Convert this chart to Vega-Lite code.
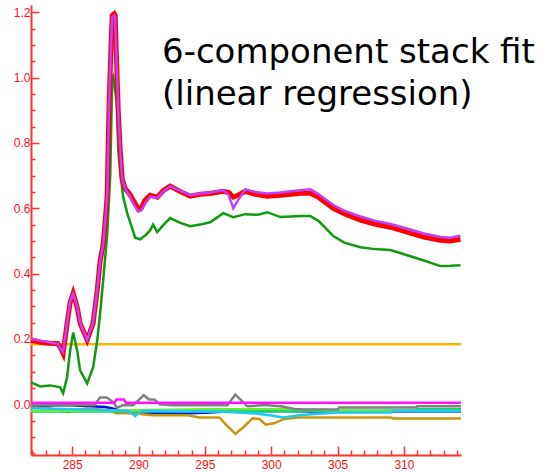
{
  "$schema": "https://vega.github.io/schema/vega-lite/v6.json",
  "width": 430,
  "height": 450,
  "autosize": {"type": "none"},
  "padding": {"left": 31, "top": 5, "right": 87, "bottom": 18},
  "background": "white",
  "config": {"view": {"stroke": null}},
  "title": {
    "text": ["6-component stack fit", "(linear regression)"],
    "orient": "top",
    "anchor": "start",
    "frame": "group",
    "align": "left",
    "baseline": "alphabetic",
    "font": "DejaVu Sans",
    "fontSize": 34,
    "fontWeight": "normal",
    "color": "#000000",
    "lineHeight": 42,
    "offset": 0,
    "dx": 131,
    "dy": 135
  },
  "datasets": {
    "data": [
      {"e": 281.9, "v": 0.197}, {"e": 282.6, "v": 0.19}, {"e": 283.3, "v": 0.187}, {"e": 283.9, "v": 0.186},
      {"e": 284.1, "v": 0.175}, {"e": 284.32, "v": 0.156}, {"e": 284.62, "v": 0.248}, {"e": 284.85, "v": 0.312},
      {"e": 285.08, "v": 0.34}, {"e": 285.38, "v": 0.297}, {"e": 285.6, "v": 0.248}, {"e": 286.13, "v": 0.197},
      {"e": 286.58, "v": 0.248}, {"e": 286.89, "v": 0.35}, {"e": 287.11, "v": 0.44}, {"e": 287.34, "v": 0.49},
      {"e": 287.49, "v": 0.56}, {"e": 287.64, "v": 0.64}, {"e": 287.71, "v": 0.78}, {"e": 287.79, "v": 0.93},
      {"e": 287.87, "v": 1.02}, {"e": 287.94, "v": 1.11}, {"e": 288.02, "v": 1.19}, {"e": 288.17, "v": 1.195},
      {"e": 288.24, "v": 1.19}, {"e": 288.32, "v": 1.085}, {"e": 288.39, "v": 1.0}, {"e": 288.47, "v": 0.9},
      {"e": 288.62, "v": 0.78}, {"e": 288.77, "v": 0.69}, {"e": 289.0, "v": 0.66}, {"e": 289.3, "v": 0.645},
      {"e": 289.6, "v": 0.625}, {"e": 289.98, "v": 0.597}, {"e": 290.2, "v": 0.6}, {"e": 290.5, "v": 0.625},
      {"e": 290.88, "v": 0.64}, {"e": 291.41, "v": 0.634}, {"e": 291.9, "v": 0.655}, {"e": 292.39, "v": 0.668},
      {"e": 293.1, "v": 0.652}, {"e": 293.9, "v": 0.637}, {"e": 294.65, "v": 0.643}, {"e": 295.4, "v": 0.645},
      {"e": 296.39, "v": 0.652}, {"e": 296.8, "v": 0.648}, {"e": 297.14, "v": 0.634}, {"e": 297.5, "v": 0.64},
      {"e": 298.05, "v": 0.652}, {"e": 298.8, "v": 0.643}, {"e": 299.7, "v": 0.637}, {"e": 300.69, "v": 0.64},
      {"e": 301.5, "v": 0.643}, {"e": 302.19, "v": 0.646}, {"e": 302.95, "v": 0.646}, {"e": 303.5, "v": 0.635},
      {"e": 304.68, "v": 0.6}, {"e": 305.5, "v": 0.583}, {"e": 306.72, "v": 0.564}, {"e": 307.8, "v": 0.552},
      {"e": 308.98, "v": 0.542}, {"e": 310.49, "v": 0.524}, {"e": 311.5, "v": 0.512}, {"e": 312.75, "v": 0.502},
      {"e": 313.5, "v": 0.5}, {"e": 314.26, "v": 0.505}
    ],
    "fit": [
      {"e": 281.9, "v": 0.2}, {"e": 282.6, "v": 0.195}, {"e": 283.3, "v": 0.19}, {"e": 283.9, "v": 0.185},
      {"e": 284.1, "v": 0.172}, {"e": 284.32, "v": 0.16}, {"e": 284.62, "v": 0.25}, {"e": 284.85, "v": 0.315},
      {"e": 285.08, "v": 0.338}, {"e": 285.38, "v": 0.3}, {"e": 285.6, "v": 0.25}, {"e": 286.13, "v": 0.198},
      {"e": 286.58, "v": 0.25}, {"e": 286.89, "v": 0.35}, {"e": 287.11, "v": 0.44}, {"e": 287.34, "v": 0.49},
      {"e": 287.49, "v": 0.56}, {"e": 287.64, "v": 0.64}, {"e": 287.71, "v": 0.78}, {"e": 287.79, "v": 0.93},
      {"e": 287.87, "v": 1.02}, {"e": 287.94, "v": 1.11}, {"e": 288.02, "v": 1.185}, {"e": 288.17, "v": 1.19},
      {"e": 288.24, "v": 1.185}, {"e": 288.32, "v": 1.08}, {"e": 288.39, "v": 1.0}, {"e": 288.47, "v": 0.9},
      {"e": 288.62, "v": 0.78}, {"e": 288.77, "v": 0.69}, {"e": 289.0, "v": 0.66}, {"e": 289.3, "v": 0.64},
      {"e": 289.6, "v": 0.615}, {"e": 289.98, "v": 0.59}, {"e": 290.2, "v": 0.593}, {"e": 290.5, "v": 0.615},
      {"e": 290.88, "v": 0.635}, {"e": 291.41, "v": 0.632}, {"e": 291.9, "v": 0.652}, {"e": 292.39, "v": 0.667},
      {"e": 293.1, "v": 0.655}, {"e": 293.9, "v": 0.64}, {"e": 294.65, "v": 0.645}, {"e": 295.4, "v": 0.648},
      {"e": 296.39, "v": 0.655}, {"e": 296.8, "v": 0.64}, {"e": 297.14, "v": 0.6}, {"e": 297.5, "v": 0.625},
      {"e": 298.05, "v": 0.658}, {"e": 298.8, "v": 0.65}, {"e": 299.7, "v": 0.645}, {"e": 300.69, "v": 0.648},
      {"e": 301.5, "v": 0.652}, {"e": 302.19, "v": 0.655}, {"e": 302.95, "v": 0.658}, {"e": 303.5, "v": 0.645},
      {"e": 304.68, "v": 0.61}, {"e": 305.5, "v": 0.593}, {"e": 306.72, "v": 0.575}, {"e": 307.8, "v": 0.562},
      {"e": 308.98, "v": 0.552}, {"e": 310.49, "v": 0.535}, {"e": 311.5, "v": 0.523}, {"e": 312.75, "v": 0.512},
      {"e": 313.5, "v": 0.51}, {"e": 314.26, "v": 0.516}
    ],
    "green": [
      {"e": 281.9, "v": 0.067}, {"e": 282.59, "v": 0.055}, {"e": 283.34, "v": 0.058}, {"e": 284.1, "v": 0.052},
      {"e": 284.32, "v": 0.034}, {"e": 284.62, "v": 0.083}, {"e": 284.85, "v": 0.165}, {"e": 285.08, "v": 0.22},
      {"e": 285.38, "v": 0.165}, {"e": 285.6, "v": 0.104}, {"e": 286.13, "v": 0.064}, {"e": 286.58, "v": 0.113},
      {"e": 286.89, "v": 0.196}, {"e": 287.11, "v": 0.28}, {"e": 287.34, "v": 0.38}, {"e": 287.49, "v": 0.45},
      {"e": 287.64, "v": 0.52}, {"e": 287.87, "v": 0.7}, {"e": 288.02, "v": 1.0}, {"e": 288.09, "v": 1.005},
      {"e": 288.24, "v": 0.96}, {"e": 288.39, "v": 0.91}, {"e": 288.47, "v": 0.78}, {"e": 288.62, "v": 0.71},
      {"e": 288.85, "v": 0.634}, {"e": 289.15, "v": 0.585}, {"e": 289.75, "v": 0.51}, {"e": 290.13, "v": 0.505},
      {"e": 290.6, "v": 0.52}, {"e": 290.88, "v": 0.533}, {"e": 291.1, "v": 0.55}, {"e": 291.41, "v": 0.527},
      {"e": 291.9, "v": 0.55}, {"e": 292.39, "v": 0.57}, {"e": 293.1, "v": 0.556}, {"e": 293.9, "v": 0.545},
      {"e": 294.65, "v": 0.55}, {"e": 295.4, "v": 0.557}, {"e": 296.39, "v": 0.585}, {"e": 297.14, "v": 0.573},
      {"e": 298.05, "v": 0.582}, {"e": 299.0, "v": 0.58}, {"e": 299.7, "v": 0.588}, {"e": 300.69, "v": 0.573},
      {"e": 301.5, "v": 0.575}, {"e": 302.19, "v": 0.576}, {"e": 302.95, "v": 0.576}, {"e": 303.6, "v": 0.56},
      {"e": 304.68, "v": 0.515}, {"e": 305.5, "v": 0.495}, {"e": 306.72, "v": 0.481}, {"e": 307.8, "v": 0.475},
      {"e": 308.98, "v": 0.472}, {"e": 310.49, "v": 0.453}, {"e": 311.5, "v": 0.44}, {"e": 312.75, "v": 0.423},
      {"e": 313.5, "v": 0.424}, {"e": 314.26, "v": 0.426}
    ],
    "orange": [{"e": 281.9, "v": 0.184}, {"e": 314.3, "v": 0.184}],
    "magenta": [
      {"e": 281.9, "v": 0.005}, {"e": 288.2, "v": 0.005}, {"e": 288.35, "v": 0.015}, {"e": 288.9, "v": 0.015},
      {"e": 289.05, "v": 0.005}, {"e": 314.3, "v": 0.005}
    ],
    "gray": [
      {"e": 281.9, "v": -0.002}, {"e": 286.7, "v": -0.002}, {"e": 287.1, "v": 0.021}, {"e": 287.6, "v": 0.021},
      {"e": 288.0, "v": 0.01}, {"e": 288.4, "v": -0.01}, {"e": 288.8, "v": -0.003}, {"e": 289.6, "v": -0.003},
      {"e": 290.4, "v": 0.028}, {"e": 290.8, "v": 0.015}, {"e": 291.2, "v": 0.015}, {"e": 291.6, "v": 0.0},
      {"e": 292.5, "v": -0.003}, {"e": 296.7, "v": -0.003}, {"e": 297.3, "v": 0.03}, {"e": 298.2, "v": -0.006},
      {"e": 299.5, "v": -0.002}, {"e": 300.7, "v": -0.006}, {"e": 301.8, "v": -0.014}, {"e": 302.4, "v": -0.016},
      {"e": 305.0, "v": -0.016}, {"e": 305.1, "v": -0.01}, {"e": 310.9, "v": -0.01}, {"e": 311.0, "v": -0.006},
      {"e": 314.3, "v": -0.006}
    ],
    "blue": [
      {"e": 281.9, "v": -0.005}, {"e": 283.9, "v": -0.003}, {"e": 285.0, "v": -0.003}, {"e": 286.0, "v": -0.005},
      {"e": 287.5, "v": -0.008}, {"e": 288.3, "v": -0.015}, {"e": 289.0, "v": -0.025}, {"e": 290.0, "v": -0.028},
      {"e": 291.8, "v": -0.025}, {"e": 293.2, "v": -0.028}, {"e": 295.0, "v": -0.026}, {"e": 297.3, "v": -0.02},
      {"e": 301.0, "v": -0.02}, {"e": 303.0, "v": -0.022}, {"e": 314.3, "v": -0.022}
    ],
    "teal": [
      {"e": 281.9, "v": -0.022}, {"e": 300.0, "v": -0.022}, {"e": 310.9, "v": -0.018}, {"e": 311.0, "v": -0.015},
      {"e": 314.3, "v": -0.015}
    ],
    "lime": [
      {"e": 281.9, "v": -0.02}, {"e": 290.0, "v": -0.018}, {"e": 295.0, "v": -0.015}, {"e": 302.0, "v": -0.015},
      {"e": 305.0, "v": -0.018}, {"e": 309.0, "v": -0.02}, {"e": 314.3, "v": -0.02}
    ],
    "cyan": [
      {"e": 281.9, "v": -0.012}, {"e": 284.0, "v": -0.014}, {"e": 286.0, "v": -0.016}, {"e": 288.0, "v": -0.018},
      {"e": 289.3, "v": -0.02}, {"e": 289.75, "v": -0.036}, {"e": 290.2, "v": -0.02}, {"e": 292.0, "v": -0.02},
      {"e": 296.0, "v": -0.022}, {"e": 297.5, "v": -0.025}, {"e": 298.8, "v": -0.028}, {"e": 300.0, "v": -0.034},
      {"e": 300.9, "v": -0.04}, {"e": 302.0, "v": -0.034}, {"e": 303.0, "v": -0.03}, {"e": 305.0, "v": -0.025},
      {"e": 309.0, "v": -0.025}, {"e": 309.2, "v": -0.02}, {"e": 314.3, "v": -0.02}
    ],
    "gold": [
      {"e": 281.9, "v": -0.01}, {"e": 283.3, "v": -0.012}, {"e": 284.6, "v": -0.024}, {"e": 286.1, "v": -0.013},
      {"e": 287.8, "v": -0.018}, {"e": 288.3, "v": -0.027}, {"e": 289.5, "v": -0.027}, {"e": 291.1, "v": -0.033},
      {"e": 293.6, "v": -0.033}, {"e": 294.6, "v": -0.04}, {"e": 296.1, "v": -0.04}, {"e": 296.6, "v": -0.063},
      {"e": 297.3, "v": -0.09}, {"e": 297.9, "v": -0.07}, {"e": 298.6, "v": -0.043}, {"e": 299.1, "v": -0.045},
      {"e": 299.6, "v": -0.062}, {"e": 300.2, "v": -0.058}, {"e": 300.9, "v": -0.046}, {"e": 302.0, "v": -0.04},
      {"e": 309.0, "v": -0.04}, {"e": 309.2, "v": -0.043}, {"e": 314.3, "v": -0.043}
    ]
  },
  "encoding": {
    "x": {
      "field": "e", "type": "quantitative", "title": null,
      "scale": {"domain": [281.9, 314.3], "nice": false, "zero": false},
      "axis": {
        "values": [282,283,284,285,286,287,288,289,290,291,292,293,294,295,296,297,298,299,300,301,302,303,304,305,306,307,308,309,310,311,312,313,314],
        "format": "d",
        "labelExpr": "datum.value % 5 === 0 ? datum.label : ''",
        "tickSize": {"condition": {"test": "datum.value % 5 === 0", "value": -9}, "value": -5},
        "grid": false, "domainColor": "#ff3030", "domainWidth": 2, "tickColor": "#ff3030", "tickWidth": 1.5,
        "labelColor": "#ff1010", "labelFont": "Liberation Sans", "labelFontSize": 12, "labelPadding": 13,
        "labelOverlap": false, "labelFlush": false
      }
    },
    "y": {
      "field": "v", "type": "quantitative", "title": null,
      "scale": {"domain": [-0.155, 1.222], "nice": false, "zero": false},
      "axis": {
        "values": [-0.15,-0.1,-0.05,0,0.05,0.1,0.15,0.2,0.25,0.3,0.35,0.4,0.45,0.5,0.55,0.6,0.65,0.7,0.75,0.8,0.85,0.9,0.95,1.0,1.05,1.1,1.15,1.2],
        "format": ".1f",
        "labelExpr": "abs(datum.value * 5 - round(datum.value * 5)) < 0.001 ? datum.label : ''",
        "tickSize": {"condition": {"test": "abs(datum.value * 5 - round(datum.value * 5)) < 0.001", "value": -8}, "value": -4},
        "grid": false, "domainColor": "#ff3030", "domainWidth": 2, "tickColor": "#ff3030", "tickWidth": 1.5,
        "labelColor": "#ff1010", "labelFont": "Liberation Sans", "labelFontSize": 12, "labelPadding": 9,
        "labelAlign": "right",
        "labelOverlap": false, "labelFlush": false
      }
    }
  },
  "layer": [
    {"data": {"name": "orange"}, "mark": {"type": "line", "color": "#ffb400", "strokeWidth": 2.5}},
    {"data": {"name": "blue"}, "mark": {"type": "line", "color": "#0010e0", "strokeWidth": 2.5}},
    {"data": {"name": "gold"}, "mark": {"type": "line", "color": "#c89610", "strokeWidth": 2.5}},
    {"data": {"name": "teal"}, "mark": {"type": "line", "color": "#10d080", "strokeWidth": 2.5}},
    {"data": {"name": "lime"}, "mark": {"type": "line", "color": "#66f030", "strokeWidth": 2.5}},
    {"data": {"name": "cyan"}, "mark": {"type": "line", "color": "#1ec8f0", "strokeWidth": 2.5}},
    {"data": {"name": "gray"}, "mark": {"type": "line", "color": "#808080", "strokeWidth": 2.5}},
    {"data": {"name": "magenta"}, "mark": {"type": "line", "color": "#ff10ff", "strokeWidth": 2.5}},
    {"data": {"name": "green"}, "mark": {"type": "line", "color": "#109a10", "strokeWidth": 2.5}},
    {"data": {"name": "data"}, "mark": {"type": "line", "color": "#ff0000", "strokeWidth": 5}},
    {"data": {"name": "fit"}, "mark": {"type": "line", "color": "#c040ff", "strokeWidth": 2.5}}
  ]
}
